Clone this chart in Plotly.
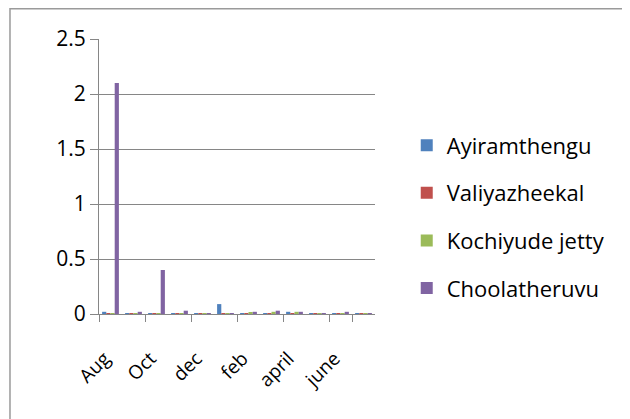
import plotly.graph_objects as go

months = ["Aug", "Sep", "Oct", "Nov", "dec", "jan", "feb", "mar", "april", "may", "june", "july"]
ayiramthengu = [0.02, 0.006, 0.006, 0.006, 0.006, 0.09, 0.006, 0.006, 0.02, 0.006, 0.006, 0.006]
valiyazheekal = [0.006, 0.006, 0.006, 0.006, 0.006, 0.006, 0.006, 0.006, 0.006, 0.006, 0.006, 0.006]
kochiyude_jetty = [0.006, 0.006, 0.006, 0.006, 0.006, 0.006, 0.01, 0.02, 0.02, 0.006, 0.006, 0.006]
choolatheruvu = [2.1, 0.02, 0.4, 0.03, 0.006, 0.006, 0.02, 0.03, 0.02, 0.006, 0.02, 0.006]
y_ticks = [0, 0.5, 1, 1.5, 2, 2.5]
y_labels = ["0", "0.5", "1", "1.5", "2", "2.5"]

series = [
    ("Ayiramthengu", ayiramthengu, "#4F81BD"),
    ("Valiyazheekal", valiyazheekal, "#C0504D"),
    ("Kochiyude jetty", kochiyude_jetty, "#9BBB59"),
    ("Choolatheruvu", choolatheruvu, "#8064A2"),
]

font_family = "Open Sans, Liberation Sans, sans-serif"

fig = go.Figure()
for i, (name, vals, col) in enumerate(series):
    fig.add_trace(go.Bar(x=months, y=vals, name=name, marker_color=col,
                         marker_line_width=0, legendgroup=str(i)))

fig.update_layout(
    width=630, height=419,
    margin=dict(l=91, r=263, t=31, b=113, autoexpand=False),
    paper_bgcolor="white", plot_bgcolor="white",
    barmode="group", bargap=0.27, bargroupgap=0,
    font=dict(family=font_family, size=21, color="#000000"),
    showlegend=True,
    legend=dict(x=1.115, y=0.353, xanchor="left", yanchor="middle",
                font=dict(size=22), tracegroupgap=16, itemwidth=30,
                bgcolor="rgba(0,0,0,0)"),
    shapes=[dict(type="rect", xref="paper", yref="paper",
                 x0=-0.3225, x1=2.0, y0=-0.5, y1=1.11,
                 line=dict(color="#9a9a9a", width=1.5), layer="below")],
)
fig.update_xaxes(
    type="category", tickangle=-45, showgrid=False,
    showline=True, linecolor="#868686", linewidth=1,
    ticks="outside", ticklen=7, tickcolor="#868686", tickson="boundaries",
    tickmode="array", tickvals=months[::2], ticktext=months[::2],
    tickfont=dict(size=19), range=[-0.5, 11.5],
    ticklabelstandoff=25, ticklabelshift=-6,
)
fig.update_yaxes(
    range=[0, 2.5], tickmode="array", tickvals=y_ticks, ticktext=y_labels,
    showgrid=True, gridcolor="#868686", gridwidth=1,
    showline=True, linecolor="#868686", linewidth=1,
    ticks="outside", ticklen=8, tickcolor="#868686",
    tickfont=dict(size=21), zeroline=False,
)

fig.write_html("out.html")
